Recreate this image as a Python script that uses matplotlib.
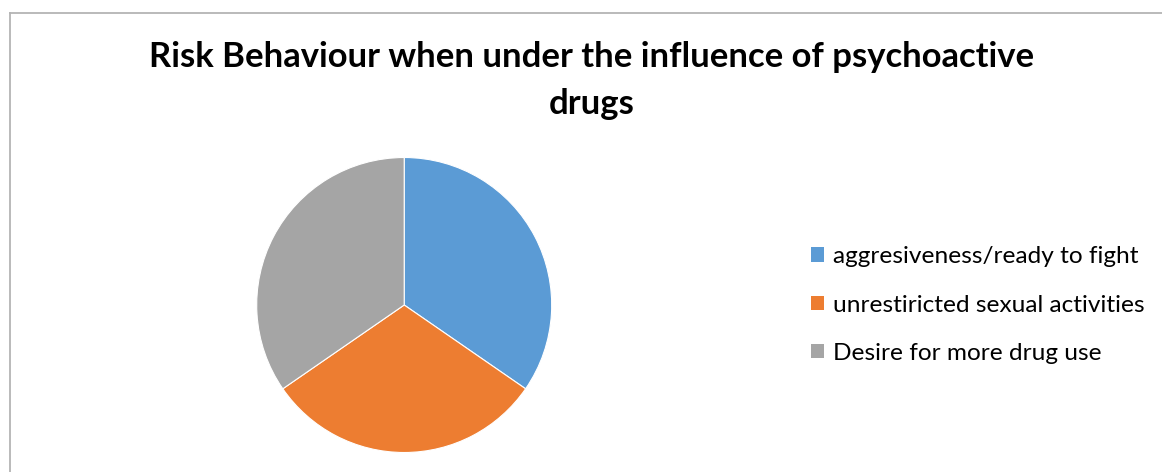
import matplotlib
matplotlib.use("Agg")
import matplotlib.pyplot as plt
from matplotlib.lines import Line2D

# Data
categories = ["aggresiveness/ready to fight", "unrestiricted sexual activities", "Desire for more drug use"]
values = [9, 8, 9]
colors = ["#5B9BD5", "#ED7D31", "#A5A5A5"]
title = "Risk Behaviour when under the influence of psychoactive\ndrugs"

W, H = 1162, 472
DPI = 100
plt.rcParams['font.family'] = ['Lato', 'DejaVu Sans']
fig = plt.figure(figsize=(W / DPI, H / DPI), dpi=DPI)
fig.patch.set_facecolor("white")

def fx(px):
    return px / W

def fy(py):
    return (H - py) / H

# chart-area border (top and left visible)
fig.add_artist(Line2D([fx(10), fx(1162)], [fy(12.5), fy(12.5)], color="#B4B4B4", lw=1.3, transform=fig.transFigure))
fig.add_artist(Line2D([fx(10), fx(10)], [fy(12.5), fy(472)], color="#B4B4B4", lw=1.3, transform=fig.transFigure))

# title
fig.text(fx(592), fy(80.5), title, ha="center", va="center", fontsize=24.9, fontweight="bold",
         color="black", linespacing=1.55)

# pie
cx, cy, r = 404.2, 305.0, 147.5
ax = fig.add_axes([fx(cx - r), fy(cy + r), (2 * r) / W, (2 * r) / H])
wedges, _ = ax.pie(values, colors=colors, startangle=90, counterclock=False, radius=1,
                   wedgeprops=dict(edgecolor="white", linewidth=0.8))
ax.set_xlim(-1, 1)
ax.set_ylim(-1, 1)
ax.set_aspect("auto")
ax.axis("off")

# legend
fs = 17.6
leg = fig.legend(wedges, categories, loc="center left", bbox_to_anchor=(fx(811), fy(305)),
                 frameon=False, fontsize=fs, handlelength=0.52, handleheight=0.52,
                 handletextpad=0.36, labelspacing=1.12, borderpad=0, borderaxespad=0)
for t in leg.get_texts():
    t.set_color("#000000")
for h in leg.legend_handles:
    h.set_edgecolor("none")

fig.savefig("out.png", dpi=DPI, facecolor="white")
